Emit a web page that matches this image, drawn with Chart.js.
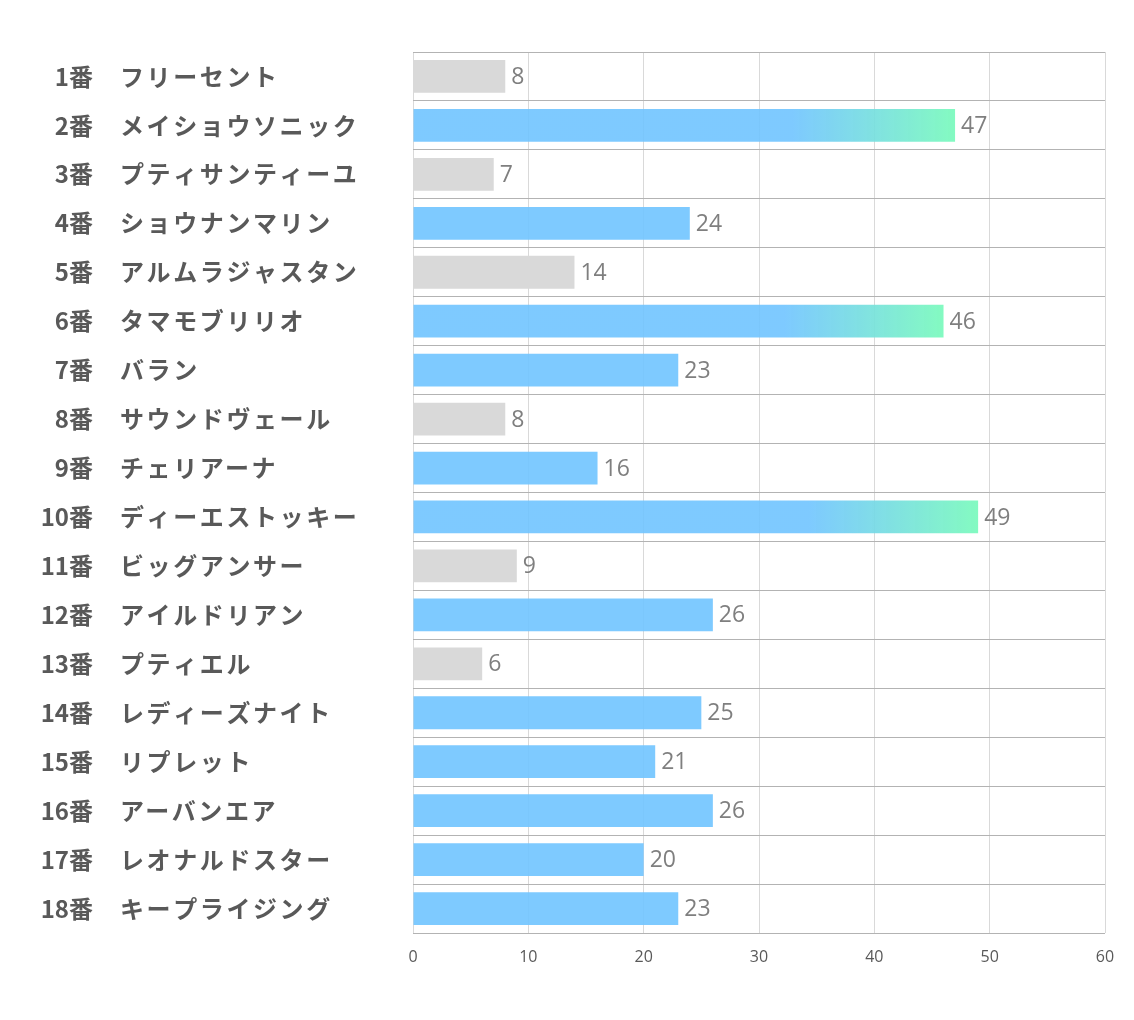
<!DOCTYPE html>
<html>
<head>
<meta charset="utf-8">
<script src="https://cdn.jsdelivr.net/npm/chart.js@4"></script>
<style>
  body { margin: 0; background: #fff; }
  #wrap { width: 1134px; height: 1020px; }
</style>
</head>
<body>
<div id="wrap"><canvas id="horseChart" width="1134" height="1020"></canvas></div>
<script>
var gateNumbers = ['1番', '2番', '3番', '4番', '5番', '6番', '7番', '8番', '9番', '10番', '11番', '12番', '13番', '14番', '15番', '16番', '17番', '18番'];
var horseNames = ['フリーセント', 'メイショウソニック', 'プティサンティーユ', 'ショウナンマリン', 'アルムラジャスタン', 'タマモブリリオ', 'バラン', 'サウンドヴェール', 'チェリアーナ', 'ディーエストッキー', 'ビッグアンサー', 'アイルドリアン', 'プティエル', 'レディーズナイト', 'リプレット', 'アーバンエア', 'レオナルドスター', 'キープライジング'];
var scores = [8, 47, 7, 24, 14, 46, 23, 8, 16, 49, 9, 26, 6, 25, 21, 26, 20, 23];
// 'g' = gray, 'b' = blue, 't' = top (gradient)
var barKinds = ['g', 't', 'g', 'b', 'g', 't', 'b', 'g', 'b', 't', 'g', 'b', 'g', 'b', 'b', 'b', 'b', 'b'];
var xTicks = [0, 10, 20, 30, 40, 50, 60];

var BLUE = 'rgba(112,196,255,0.9)';
var GRAY = '#d9d9d9';

function barColor(c) {
    var kind = barKinds[c.dataIndex];
    if (kind === 'g') return GRAY;
    if (kind === 'b') return BLUE;
    var chart = c.chart;
    if (!chart.chartArea) return BLUE;
    var xs = chart.scales.x;
    var x0 = xs.getPixelForValue(0);
    var x1 = xs.getPixelForValue(scores[c.dataIndex]);
    var g = chart.ctx.createLinearGradient(x0, 0, x1, 0);
    g.addColorStop(0, BLUE);
    g.addColorStop(0.7, BLUE);
    g.addColorStop(1, 'rgba(125,250,190,0.95)');
    return g;
}

var labelPlugin = {
    id: 'labelPlugin',
    afterDatasetsDraw: function(chart) {
        var ctx = chart.ctx;
        var ys = chart.scales.y;
        var xs = chart.scales.x;
        ctx.save();
        ctx.textBaseline = 'middle';
        for (var i = 0; i < scores.length; i++) {
            var y = ys.getPixelForValue(i);
            ctx.fillStyle = '#595959';
            ctx.font = 'bold 24px "Noto Sans CJK JP", "Noto Sans", sans-serif';
            ctx.letterSpacing = '0px';
            ctx.textAlign = 'right';
            ctx.fillText(gateNumbers[i], 93, y);
            ctx.letterSpacing = '2.6px';
            ctx.textAlign = 'left';
            ctx.fillText(horseNames[i], 120, y);
            ctx.letterSpacing = '0px';
            ctx.fillStyle = '#7f7f7f';
            ctx.font = '23px "Open Sans", "Noto Sans", sans-serif';
            ctx.fillText(String(scores[i]), xs.getPixelForValue(scores[i]) + 6, y + 1);
        }
        ctx.restore();
    }
};

var ctx = document.getElementById('horseChart').getContext('2d');
var horseChart = new Chart(ctx, {
    type: 'bar',
    data: {
        labels: horseNames,
        datasets: [{
            data: scores,
            backgroundColor: barColor,
            borderWidth: 0,
            barPercentage: 0.67,
            categoryPercentage: 1.0
        }]
    },
    options: {
        indexAxis: 'y',
        responsive: false,
        animation: false,
        layout: {
            padding: { top: 52, right: 29, left: 0, bottom: 0 }
        },
        plugins: {
            legend: { display: false },
            tooltip: { enabled: false }
        },
        scales: {
            x: {
                min: 0,
                max: 60,
                afterBuildTicks: function(scale) {
                    scale.ticks = xTicks.map(function(v) { return { value: v }; });
                },
                afterFit: function(scale) { scale.height = 87; },
                grid: { color: '#d9d9d9', lineWidth: 1, drawTicks: false },
                border: { display: false },
                ticks: {
                    color: '#595959',
                    font: { family: '"Open Sans", sans-serif', size: 16 },
                    padding: 15
                }
            },
            y: {
                afterFit: function(scale) { scale.width = 413; },
                grid: { offset: true, color: '#b3b3b3', lineWidth: 1, drawTicks: false },
                border: { display: false },
                ticks: { display: false }
            }
        }
    },
    plugins: [labelPlugin]
});
</script>
</body>
</html>
